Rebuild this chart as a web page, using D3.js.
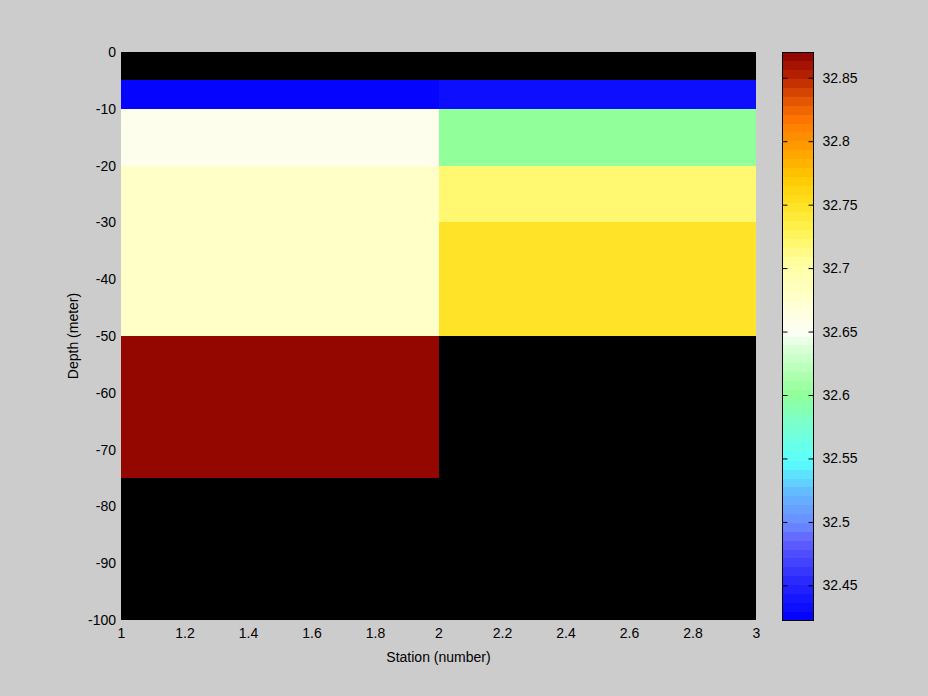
<!DOCTYPE html>
<html>
<head>
<meta charset="utf-8">
<script src="https://cdn.jsdelivr.net/npm/d3@7"></script>
<style>
  html, body { margin: 0; padding: 0; background: #cccccc; }
  svg { display: block; }
  text { font-family: "Liberation Sans", Arial, Helvetica, sans-serif; fill: #000; }
</style>
</head>
<body>
<svg id="chart" width="928" height="696"></svg>
<script>
// ---------- data ----------
const stations = [1, 2, 3];                                  // grid nodes (x)
const depths = [0, -5, -10, -20, -30, -50, -75, -100];         // grid nodes (y)
// cell values (salinity) per depth interval, NaN = no data (black)
const station1Values = [NaN, 32.425, 32.655, 32.680, 32.680, 32.866, NaN];
const station2Values = [NaN, 32.436, 32.602, 32.720, 32.745, NaN, NaN];
const xTicks = [1, 1.2, 1.4, 1.6, 1.8, 2, 2.2, 2.4, 2.6, 2.8, 3];
const yTicks = [0, -10, -20, -30, -40, -50, -60, -70, -80, -90, -100];
const colorTicks = [32.45, 32.5, 32.55, 32.6, 32.65, 32.7, 32.75, 32.8, 32.85];
const colorDomain = [32.4227, 32.8703];
const xLabel = "Station (number)";
const yLabel = "Depth (meter)";

// ---------- colormap (64 levels) ----------
const cmapStops = [
  [0.00, "#0000ff"], [0.07, "#2a2aff"], [0.14, "#6060ff"], [0.17, "#6a8cff"],
  [0.22, "#64b4ff"], [0.28, "#5affff"], [0.34, "#78ffd2"], [0.40, "#92ff98"],
  [0.46, "#c8ffc8"], [0.51, "#fcfff6"], [0.57, "#ffffc8"], [0.63, "#ffffa0"],
  [0.68, "#fff55a"], [0.73, "#ffe224"], [0.78, "#ffc800"], [0.84, "#ff9600"],
  [0.88, "#ff7800"], [0.92, "#e05000"], [0.96, "#b42000"], [1.00, "#8c0000"]
];
const nLevels = 64;
const stopScale = d3.scaleLinear()
  .domain(cmapStops.map(s => s[0]))
  .range(cmapStops.map(s => s[1]))
  .interpolate(d3.interpolateRgb);
const cmap = d3.range(nLevels).map(i => stopScale((i + 0.5) / nLevels));
const colorScale = d3.scaleQuantize().domain(colorDomain).range(cmap);

// ---------- layout ----------
const svg = d3.select("#chart");
const plot = { left: 121, right: 756, top: 52, bottom: 620 };
const cbar = { left: 782, right: 813 };

const x = d3.scaleLinear().domain([1, 3]).range([plot.left, plot.right]);
const y = d3.scaleLinear().domain([-100, 0]).range([plot.bottom, plot.top]);
const fmt = d => String(+d.toFixed(4)); // plain hyphen minus, like the reference

// axes background (black = NaN)
svg.append("rect")
  .attr("x", plot.left).attr("y", plot.top)
  .attr("width", plot.right - plot.left).attr("height", plot.bottom - plot.top)
  .attr("fill", "#000");

// cells
const cells = [];
[station1Values, station2Values].forEach((vals, si) => {
  vals.forEach((v, di) => {
    cells.push({ x0: stations[si], x1: stations[si + 1], y0: depths[di], y1: depths[di + 1], v });
  });
});
svg.append("g").selectAll("rect")
  .data(cells.filter(c => !isNaN(c.v)))
  .join("rect")
  .attr("x", d => x(d.x0))
  .attr("y", d => y(d.y0))
  .attr("width", d => x(d.x1) - x(d.x0))
  .attr("height", d => y(d.y1) - y(d.y0))
  .attr("fill", d => colorScale(d.v))
  .attr("shape-rendering", "crispEdges");

// axes
const fontSize = 14;
const xAxis = svg.append("g").attr("transform", `translate(0,${plot.bottom})`)
  .call(d3.axisBottom(x).tickValues(xTicks).tickSize(0).tickPadding(8).tickFormat(fmt));
const yAxis = svg.append("g").attr("transform", `translate(${plot.left},0)`)
  .call(d3.axisLeft(y).tickValues(yTicks).tickSize(0).tickPadding(5).tickFormat(fmt));
[xAxis, yAxis].forEach(g => {
  g.select(".domain").remove();
  g.selectAll("text").attr("font-size", fontSize).attr("font-family", "Liberation Sans, Arial, sans-serif").attr("fill", "#000");
});

// axis labels
svg.append("text")
  .attr("x", (plot.left + plot.right) / 2).attr("y", 662)
  .attr("text-anchor", "middle").attr("font-size", fontSize)
  .text(xLabel);
svg.append("text")
  .attr("transform", `translate(78,${(plot.top + plot.bottom) / 2}) rotate(-90)`)
  .attr("text-anchor", "middle").attr("font-size", fontSize)
  .text(yLabel);

// ---------- colorbar ----------
const cy = d3.scaleLinear().domain(colorDomain).range([plot.bottom, plot.top]);
const step = (colorDomain[1] - colorDomain[0]) / nLevels;
svg.append("g").selectAll("rect")
  .data(cmap)
  .join("rect")
  .attr("x", cbar.left)
  .attr("y", (d, i) => cy(colorDomain[0] + (i + 1) * step))
  .attr("width", cbar.right - cbar.left)
  .attr("height", (d, i) => cy(colorDomain[0] + i * step) - cy(colorDomain[0] + (i + 1) * step) + 0.5)
  .attr("fill", d => d)
  .attr("shape-rendering", "crispEdges");

svg.append("rect")
  .attr("x", cbar.left + 0.5).attr("y", plot.top + 0.5)
  .attr("width", cbar.right - cbar.left).attr("height", plot.bottom - plot.top)
  .attr("fill", "none").attr("stroke", "#000").attr("stroke-width", 1);

const cAxisR = svg.append("g").attr("transform", `translate(${cbar.right + 0.5},0)`)
  .call(d3.axisRight(cy).tickValues(colorTicks).tickSize(-5).tickPadding(9).tickFormat(fmt));
cAxisR.select(".domain").remove();
cAxisR.selectAll("line").attr("stroke", "#000");
cAxisR.selectAll("text").attr("font-size", fontSize).attr("font-family", "Liberation Sans, Arial, sans-serif").attr("fill", "#000");

const cAxisL = svg.append("g").attr("transform", `translate(${cbar.left + 0.5},0)`)
  .call(d3.axisLeft(cy).tickValues(colorTicks).tickSize(-5).tickFormat(""));
cAxisL.select(".domain").remove();
cAxisL.selectAll("line").attr("stroke", "#000");
</script>
</body>
</html>
